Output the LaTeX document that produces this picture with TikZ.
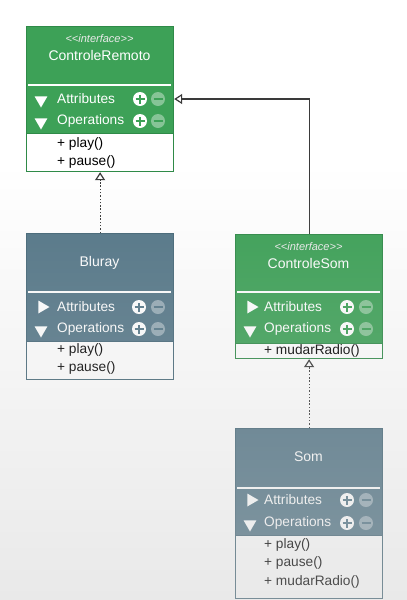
\documentclass[tikz,border=0pt]{standalone}
\usepackage{fontspec}
\setmainfont{Liberation Sans}
\usetikzlibrary{shapes.geometric,arrows.meta,fadings,positioning}
\definecolor{ifgreen}{HTML}{3DA157}
\definecolor{ifborder}{HTML}{2F8A48}
\definecolor{clblue}{HTML}{557788}
\definecolor{clborder}{HTML}{466878}
\definecolor{linkgray}{HTML}{3A3A3A}
\tikzfading[name=fadedown, top color=transparent!100, bottom color=transparent!60]
\newcommand{\rowfont}{\fontsize{13.7}{16}\selectfont}
\tikzset{
  classbox/.style={rectangle, anchor=north west, minimum width=147pt, inner sep=0pt, line width=1.2pt},
  listbox/.style={rectangle, anchor=north west, fill=white, draw=#1, minimum width=147pt, inner sep=0pt, line width=1.2pt},
  stereo/.style={text=white!92!black, font=\fontsize{11}{13}\selectfont\itshape},
  classname/.style={text=white, font=\fontsize{14}{16}\selectfont},
  rowtext/.style={anchor=west, inner sep=0pt, text=white, font=\rowfont},
  itemtext/.style={anchor=west, inner sep=0pt, text=black, font=\rowfont},
  sepline/.style={draw=white, line width=1.6pt},
  opentri/.style={regular polygon, regular polygon sides=3, fill=white, minimum size=15pt, inner sep=0pt, shape border rotate=#1},
  plusicon/.style={circle, fill=white, minimum size=14pt, inner sep=0pt,
    path picture={\draw[line width=2.3pt,#1]
      ([xshift=-4.5pt]path picture bounding box.center) -- ([xshift=4.5pt]path picture bounding box.center)
      ([yshift=-4.5pt]path picture bounding box.center) -- ([yshift=4.5pt]path picture bounding box.center);}},
  minusicon/.style={circle, fill=white, fill opacity=0.38, minimum size=14pt, inner sep=0pt,
    path picture={\draw[line width=2.3pt,#1]
      ([xshift=-4.5pt]path picture bounding box.center) -- ([xshift=4.5pt]path picture bounding box.center);}},
  realize/.style={draw=linkgray, line width=1.2pt, dash pattern=on 1.5pt off 1.8pt, -{Triangle[open,width=10pt,length=8pt,line width=1.2pt]}},
  generalize/.style={draw=linkgray, line width=1.2pt, -{Triangle[open,width=10pt,length=8pt,line width=1.2pt]}}
}
\begin{document}
\begin{tikzpicture}[x=1pt, y=-1pt]
  \useasboundingbox (0,0) rectangle (407,600);
  \fill[white] (0,0) rectangle (407,600);

  % ControleRemoto
  \begin{scope}[shift={(26,26)}]
    \node[classbox, fill=ifgreen, draw=ifborder, minimum height=145pt] (remoto) at (0,0) {};
    \node[listbox=ifborder, minimum height=38pt] (remoto-list) at (0,107) {};
    \node[stereo] (remoto-stereo) at (73.5,13) {{<}{<}interface{>}{>}};
    \node[classname] (remoto-name) at (73.5,29) {ControleRemoto};
    \draw[sepline] (2,59) -- (145,59);
    \node[opentri=180] (remoto-tri1) at (15,74) {};
    \node[rowtext] (remoto-attr) at (31,73) {Attributes};
    \node[plusicon=ifgreen] (remoto-plus1) at (114,73) {};
    \node[minusicon=ifgreen] (remoto-minus1) at (132,73) {};
    \node[opentri=180] (remoto-tri2) at (15,96) {};
    \node[rowtext] (remoto-ops) at (31,95) {Operations};
    \node[plusicon=ifgreen] (remoto-plus2) at (114,95) {};
    \node[minusicon=ifgreen] (remoto-minus2) at (132,95) {};
    \node[itemtext] (remoto-op1) at (31,118) {+ play()};
    \node[itemtext] (remoto-op2) at (31,136) {+ pause()};
  \end{scope}

  % Bluray
  \begin{scope}[shift={(26,233)}]
    \node[classbox, fill=clblue, draw=clborder, minimum height=146pt] (bluray) at (0,0) {};
    \node[listbox=clborder, minimum height=38pt] (bluray-list) at (0,108) {};
    \node[classname] (bluray-name) at (73.5,30) {Bluray};
    \draw[sepline] (2,59) -- (145,59);
    \node[opentri=-90] (bluray-tri1) at (16,74) {};
    \node[rowtext] (bluray-attr) at (31,74) {Attributes};
    \node[plusicon=clblue] (bluray-plus1) at (113,74) {};
    \node[minusicon=clblue] (bluray-minus1) at (132,74) {};
    \node[opentri=180] (bluray-tri2) at (15,97) {};
    \node[rowtext] (bluray-ops) at (31,96) {Operations};
    \node[plusicon=clblue] (bluray-plus2) at (113,96) {};
    \node[minusicon=clblue] (bluray-minus2) at (132,96) {};
    \node[itemtext] (bluray-op1) at (31,117) {+ play()};
    \node[itemtext] (bluray-op2) at (31,135) {+ pause()};
  \end{scope}

  % ControleSom
  \begin{scope}[shift={(235,234)}]
    \node[classbox, fill=ifgreen, draw=ifborder, minimum height=124pt] (csom) at (0,0) {};
    \node[listbox=ifborder, minimum height=15pt] (csom-list) at (0,109) {};
    \node[stereo] (csom-stereo) at (73.5,13) {{<}{<}interface{>}{>}};
    \node[classname] (csom-name) at (73.5,29) {ControleSom};
    \draw[sepline] (2,58) -- (145,58);
    \node[opentri=-90] (csom-tri1) at (16,73) {};
    \node[rowtext] (csom-attr) at (29,73) {Attributes};
    \node[plusicon=ifgreen] (csom-plus1) at (112,73) {};
    \node[minusicon=ifgreen] (csom-minus1) at (131,73) {};
    \node[opentri=180] (csom-tri2) at (15,96) {};
    \node[rowtext] (csom-ops) at (29,95) {Operations};
    \node[plusicon=ifgreen] (csom-plus2) at (112,95) {};
    \node[minusicon=ifgreen] (csom-minus2) at (131,95) {};
    \node[itemtext] (csom-op1) at (29,117) {+ mudarRadio()};
  \end{scope}

  % Som
  \begin{scope}[shift={(235,428)}]
    \node[classbox, fill=clblue, draw=clborder, minimum height=170pt] (som) at (0,0) {};
    \node[listbox=clborder, minimum height=63pt] (som-list) at (0,107) {};
    \node[classname] (som-name) at (73.5,29) {Som};
    \draw[sepline] (2,60) -- (145,60);
    \node[opentri=-90] (som-tri1) at (16,72) {};
    \node[rowtext] (som-attr) at (29,72) {Attributes};
    \node[plusicon=clblue] (som-plus1) at (112,72) {};
    \node[minusicon=clblue] (som-minus1) at (131,72) {};
    \node[opentri=180] (som-tri2) at (15,96) {};
    \node[rowtext] (som-ops) at (29,95) {Operations};
    \node[plusicon=clblue] (som-plus2) at (112,95) {};
    \node[minusicon=clblue] (som-minus2) at (131,95) {};
    \node[itemtext] (som-op1) at (29,117) {+ play()};
    \node[itemtext] (som-op2) at (29,135) {+ pause()};
    \node[itemtext] (som-op3) at (29,154) {+ mudarRadio()};
  \end{scope}

  % relations
  \draw[realize] (bluray.north) -- (remoto.south);
  \draw[generalize] (csom.north) |- (remoto.east |- remoto-attr);
  \draw[realize] (som.north) -- (csom.south);

  % grey fade at the bottom
  \fill[gray!42, path fading=fadedown] (0,170) rectangle (407,600);
\end{tikzpicture}
\end{document}
